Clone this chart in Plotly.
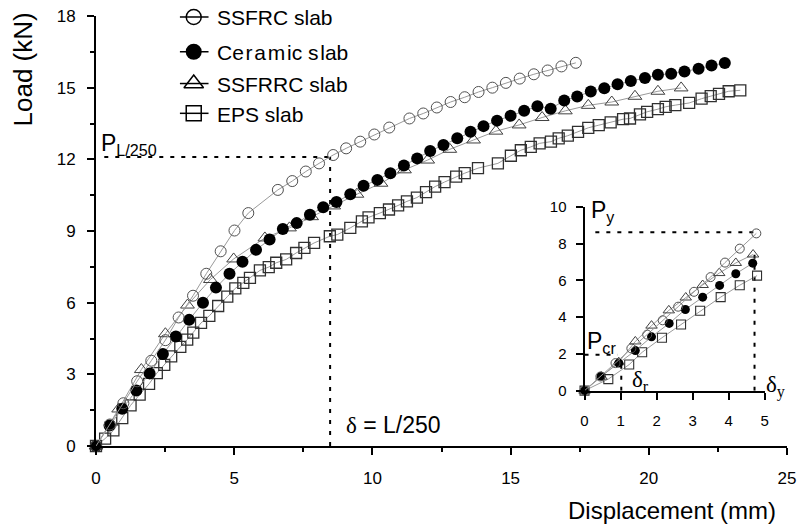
import plotly.graph_objects as go

# ---------------- main chart data ----------------
ssfrc_x = [0, 0.5, 0.99, 1.49, 2.0, 2.51, 2.99, 3.51, 3.99, 4.51, 5.01, 5.51, 6.58, 7.1, 7.59, 8.07,
           8.58, 9.05, 9.56, 10.07, 10.61, 11.34, 11.84, 12.33, 12.83, 13.34, 13.84, 14.34, 14.83,
           15.33, 15.84, 16.34, 16.84, 17.36]
ssfrc_y = [0, 0.9, 1.79, 2.71, 3.57, 4.43, 5.38, 6.29, 7.21, 8.15, 9.02, 9.75, 10.72, 11.09, 11.49,
           11.83, 12.18, 12.46, 12.74, 13.04, 13.33, 13.71, 13.92, 14.17, 14.4, 14.6, 14.82, 15.0,
           15.2, 15.38, 15.56, 15.72, 15.89, 16.04]

ceramic_x = [0, 0.49, 0.95, 1.46, 1.94, 2.42, 2.89, 3.37, 3.87, 4.34, 4.83, 5.3, 5.79, 6.28, 6.76,
             7.26, 7.74, 8.22, 8.7, 9.2, 9.68, 10.18, 10.65, 11.14, 11.62, 12.09, 12.57, 13.07,
             13.55, 14.02, 14.51, 15.0, 15.49, 15.97, 16.45, 16.94, 17.41, 17.9, 18.39, 18.87,
             19.35, 19.86, 20.33, 20.81, 21.29, 21.8, 22.27, 22.75]
ceramic_y = [0, 0.86, 1.56, 2.32, 3.04, 3.85, 4.58, 5.28, 6.0, 6.63, 7.21, 7.71, 8.21, 8.64, 9.08,
             9.33, 9.68, 9.99, 10.21, 10.54, 10.89, 11.14, 11.42, 11.74, 12.04, 12.35, 12.6, 12.88,
             13.15, 13.39, 13.62, 13.82, 14.03, 14.22, 14.12, 14.46, 14.63, 14.84, 14.98, 15.14,
             15.28, 15.4, 15.54, 15.58, 15.68, 15.79, 15.93, 16.03]

ssfrrc_x = [0, 0.82, 1.64, 2.51, 3.31, 4.14, 4.98, 6.11, 7.0, 7.8, 8.6, 9.44, 10.31, 11.16, 12.0,
            12.8, 13.66, 14.47, 15.31, 16.14, 16.98, 17.81, 18.66, 19.5, 20.33, 21.17]
ssfrrc_y = [0, 1.55, 3.2, 4.7, 5.9, 6.97, 7.83, 8.71, 9.13, 9.6, 10.05, 10.54, 11.0, 11.56, 11.97,
            12.42, 12.81, 13.18, 13.44, 13.75, 14.03, 14.26, 14.4, 14.64, 14.85, 14.99]

eps_x = [0, 0.33, 0.63, 0.95, 1.25, 1.58, 1.92, 2.2, 2.47, 2.72, 3.05, 3.3, 3.52, 3.8, 4.1, 4.42,
         4.75, 5.04, 5.33, 5.57, 5.93, 6.25, 6.52, 6.88, 7.24, 7.54, 7.89, 8.46, 8.73, 9.2, 9.62,
         9.86, 10.27, 10.6, 10.93, 11.25, 11.61, 11.94, 12.27, 12.61, 13.03, 13.34, 13.82, 14.54,
         15.01, 15.37, 15.73, 16.05, 16.46, 16.74, 17.07, 17.44, 17.81, 18.19, 18.62, 19.07, 19.32,
         19.68, 19.94, 20.33, 20.61, 20.96, 21.46, 21.91, 22.24, 22.54, 22.89, 23.31]
eps_y = [0, 0.31, 0.65, 1.17, 1.7, 2.15, 2.6, 3.05, 3.4, 3.75, 4.15, 4.45, 4.75, 5.15, 5.45, 5.86,
         6.25, 6.6, 6.83, 7.04, 7.35, 7.49, 7.67, 7.81, 8.08, 8.29, 8.5, 8.78, 8.85, 9.13, 9.4,
         9.57, 9.75, 9.9, 10.07, 10.24, 10.4, 10.63, 10.86, 11.05, 11.28, 11.42, 11.63, 11.83,
         12.15, 12.38, 12.52, 12.67, 12.74, 12.88, 12.99, 13.15, 13.32, 13.43, 13.55, 13.68, 13.71,
         13.88, 13.99, 14.1, 14.2, 14.27, 14.36, 14.54, 14.65, 14.74, 14.85, 14.89]

# ---------------- inset data ----------------
in_ssfrc_x = [0, 0.44, 0.86, 1.30, 1.74, 2.17, 2.6, 3.04, 3.5, 3.9, 4.31, 4.77]
in_ssfrc_y = [0, 0.77, 1.5, 2.3, 3.05, 3.83, 4.57, 5.38, 6.18, 6.97, 7.73, 8.56]
in_ceramic_x = [0, 0.46, 0.95, 1.41, 1.86, 2.35, 2.8, 3.28, 3.75, 4.2, 4.67]
in_ceramic_y = [0, 0.79, 1.5, 2.18, 2.93, 3.66, 4.42, 5.09, 5.73, 6.36, 6.94]
in_ssfrrc_x = [0, 0.47, 0.95, 1.41, 1.86, 2.34, 2.81, 3.28, 3.74, 4.2, 4.68]
in_ssfrrc_y = [0, 0.76, 1.55, 2.68, 3.54, 4.37, 5.07, 5.75, 6.4, 6.95, 7.41]
in_eps_x = [0, 0.66, 1.24, 1.6, 2.15, 2.68, 3.21, 3.78, 4.31, 4.79]
in_eps_y = [0, 0.63, 1.42, 2.09, 2.88, 3.6, 4.35, 5.09, 5.74, 6.26]

series_names = ["SSFRC slab", "Ceramic slab", "SSFRRC slab", "EPS slab"]
HS = "\u200a"
legend_labels = ["SSFRC slab",
                 "Ce" + HS + "r" + HS + "a" + HS + "m" + HS + "ic s" + HS + "lab",
                 "SSFRRC slab", "EPS slab"]

# reference lines
l250_load = 12.1
l250_disp = 8.47
py_load = 8.62
py_disp = 4.72
pcr_load = 1.95
pcr_disp = 1.02

x_ticks = [0, 5, 10, 15, 20, 25]
y_ticks = [0, 3, 6, 9, 12, 15, 18]
in_x_ticks = [0, 1, 2, 3, 4, 5]
in_y_ticks = [0, 2, 4, 6, 8, 10]

# legend layout (pixel frame of an overlay axis: x 96..796, y 13..446)
legend_rows = [14, 49, 81, 111]
legend_swatch = [181, 195, 210]
legend_text_x = 217

FONT = "Liberation Sans, Arial, sans-serif"

styles = [
    dict(symbol="circle-open", size=11, color="#505050", line=dict(width=1)),
    dict(symbol="circle", size=12, color="black"),
    dict(symbol="triangle-up-open", size=12, color="#404040", line=dict(width=1)),
    dict(symbol="square-open", size=11, color="#303030", line=dict(width=1.3)),
]
in_styles = [
    dict(symbol="circle-open", size=9, color="#505050", line=dict(width=1)),
    dict(symbol="circle", size=9, color="black"),
    dict(symbol="triangle-up-open", size=10, color="#404040", line=dict(width=1)),
    dict(symbol="square-open", size=9, color="#303030", line=dict(width=1.1)),
]
leg_styles = [
    dict(symbol="circle-open", size=15, color="black", line=dict(width=1.5)),
    dict(symbol="circle", size=16, color="black"),
    dict(symbol="triangle-up-open", size=17, color="black", line=dict(width=1.5)),
    dict(symbol="square-open", size=15, color="black", line=dict(width=1.5)),
]

fig = go.Figure()

main_xs = [ssfrc_x, ceramic_x, ssfrrc_x, eps_x]
main_ys = [ssfrc_y, ceramic_y, ssfrrc_y, eps_y]
in_xs = [in_ssfrc_x, in_ceramic_x, in_ssfrrc_x, in_eps_x]
in_ys = [in_ssfrc_y, in_ceramic_y, in_ssfrrc_y, in_eps_y]

DOT = "4px,7px"
fig.add_trace(go.Scatter(x=[0.3, l250_disp], y=[l250_load, l250_load], mode="lines",
                         line=dict(color="black", width=2, dash=DOT), showlegend=False,
                         hoverinfo="skip"))
fig.add_trace(go.Scatter(x=[l250_disp, l250_disp], y=[0, l250_load], mode="lines",
                         line=dict(color="black", width=2, dash=DOT), showlegend=False,
                         hoverinfo="skip"))

order = [3, 2, 1, 0]
for i in order:
    fig.add_trace(go.Scatter(x=main_xs[i], y=main_ys[i], mode="lines+markers", name=series_names[i],
                             line=dict(color="#9a9a9a", width=1), marker=styles[i],
                             showlegend=False, cliponaxis=False))

for xs_, ys_ in [([0.3, py_disp + 0.05], [py_load, py_load]),
                 ([py_disp, py_disp], [0, 7.7]),
                 ([0, pcr_disp - 0.1], [pcr_load, pcr_load]),
                 ([pcr_disp, pcr_disp], [0, 1.4])]:
    fig.add_trace(go.Scatter(x=xs_, y=ys_, mode="lines", xaxis="x2", yaxis="y2",
                             line=dict(color="black", width=2, dash=DOT), showlegend=False,
                             hoverinfo="skip"))

for i in order:
    fig.add_trace(go.Scatter(x=in_xs[i], y=in_ys[i], mode="lines+markers", xaxis="x2", yaxis="y2",
                             name=series_names[i],
                             line=dict(color="#9a9a9a", width=1), marker=in_styles[i],
                             showlegend=False, cliponaxis=False))

# legend swatches (drawn on an invisible overlay axis)
for i in range(4):
    r = legend_rows[i]
    fig.add_trace(go.Scatter(x=legend_swatch, y=[r, r, r], mode="lines", xaxis="x3", yaxis="y3",
                             line=dict(color="black", width=1.5), showlegend=False,
                             hoverinfo="skip", cliponaxis=False))
    fig.add_trace(go.Scatter(x=[legend_swatch[1]], y=[r], mode="markers", xaxis="x3", yaxis="y3",
                             marker=leg_styles[i], showlegend=False, hoverinfo="skip",
                             cliponaxis=False))

axis_common = dict(showline=True, linecolor="black", linewidth=2, ticks="outside",
                   tickcolor="black", tickwidth=2, showgrid=False, zeroline=False,
                   tickfont=dict(family=FONT, size=17, color="black"))
inset_font = dict(family=FONT, size=15, color="black")

fig.update_layout(
    width=803, height=525,
    margin=dict(l=96, r=7, t=13, b=79),
    paper_bgcolor="white", plot_bgcolor="white",
    font=dict(family=FONT, color="black"),
    showlegend=False,
    xaxis=dict(range=[0, 25], tickvals=x_ticks, ticklen=7, ticklabelstandoff=9,
               minor=dict(dtick=2.5, tick0=0, ticks="outside", ticklen=4, tickwidth=1.5,
                          tickcolor="black"),
               **axis_common),
    yaxis=dict(range=[0, 18], tickvals=y_ticks, ticklen=7, ticklabelstandoff=8,
               minor=dict(dtick=1.5, tick0=0, ticks="outside", ticklen=4, tickwidth=1.5,
                          tickcolor="black"),
               **axis_common),
    xaxis2=dict(domain=[0.707, 0.9676], anchor="y2", range=[0, 5], tickvals=in_x_ticks,
                ticklen=7, ticklabelstandoff=8, **{**axis_common, "tickfont": inset_font}),
    yaxis2=dict(domain=[0.1287, 0.556], anchor="x2", range=[0, 10], tickvals=in_y_ticks,
                ticklen=7, ticklabelstandoff=6, **{**axis_common, "tickfont": inset_font}),
    xaxis3=dict(domain=[0, 1], anchor="y3", range=[96, 796], visible=False, overlaying="x"),
    yaxis3=dict(domain=[0, 1], anchor="x3", range=[446, 13], visible=False, overlaying="y"),
)

ann = [
    dict(text="Load (kN)", xref="paper", yref="paper", x=-0.106, y=0.875, textangle=-90,
         font=dict(size=26)),
    dict(text="Displacement (mm)", xref="paper", yref="paper", x=0.833, y=-0.149,
         font=dict(size=24)),
    dict(text="P<sub>L/250</sub>", xref="x", yref="y", x=0.12, y=12.62, xanchor="left",
         font=dict(size=23)),
    dict(text="<span style=\"font-family:'Liberation Serif'\">δ</span> = L/250", xref="x", yref="y",
         x=10.75, y=0.9, font=dict(size=23)),
    dict(text="P<sub>y</sub>", xref="x2", yref="y2", x=0.12, y=9.75, xanchor="left",
         font=dict(size=23)),
    dict(text="P<sub>cr</sub>", xref="x2", yref="y2", x=0.0, y=2.6, xanchor="left",
         font=dict(size=23)),
    dict(text="<span style=\"font-family:'Liberation Serif'\">δ<sub>r</sub></span>", xref="x2",
         yref="y2", x=1.25, y=0.5, xanchor="left", font=dict(size=23)),
    dict(text="<span style=\"font-family:'Liberation Serif'\">δ<sub>y</sub></span>", xref="x2",
         yref="y2", x=4.98, y=0.2, xanchor="left", font=dict(size=23)),
]
for i in range(4):
    ann.append(dict(text=legend_labels[i], xref="x3", yref="y3", x=legend_text_x,
                    y=legend_rows[i] + 1, xanchor="left", font=dict(size=21)))
for a in ann:
    a.setdefault("showarrow", False)
    a.setdefault("xanchor", "center")
    a.setdefault("yanchor", "middle")
    a["font"].setdefault("family", FONT)
    a["font"].setdefault("color", "black")
fig.update_layout(annotations=ann)

fig.write_html("out.html")
